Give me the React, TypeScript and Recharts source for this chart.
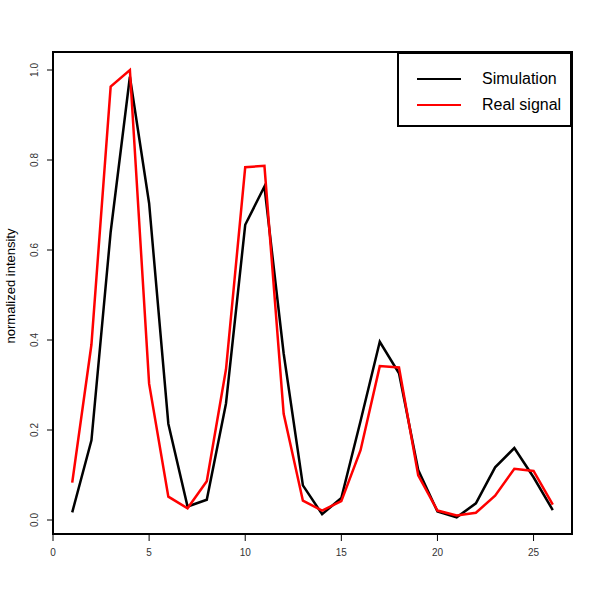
import React from 'react';
import { LineChart, Line, XAxis, YAxis, ReferenceArea, Legend } from 'recharts';

const positions = [1, 2, 3, 4, 5, 6, 7, 8, 9, 10, 11, 12, 13, 14, 15, 16, 17, 18, 19, 20, 21, 22, 23, 24, 25, 26];
const simulation = [0.017, 0.177, 0.64, 0.985, 0.704, 0.214, 0.03, 0.045, 0.259, 0.656, 0.741, 0.37, 0.077, 0.013, 0.049, 0.22, 0.396, 0.326, 0.111, 0.019, 0.006, 0.037, 0.117, 0.16, 0.095, 0.022];
const realSignal = [0.083, 0.39, 0.963, 1.0, 0.303, 0.052, 0.026, 0.086, 0.335, 0.784, 0.787, 0.236, 0.043, 0.021, 0.042, 0.155, 0.342, 0.339, 0.099, 0.021, 0.01, 0.016, 0.054, 0.114, 0.109, 0.034];
const xTicks = [0, 5, 10, 15, 20, 25];
const yTicks = [0, 0.2, 0.4, 0.6, 0.8, 1.0];
const seriesNames = ['Simulation', 'Real signal'];
const seriesColors = ['#000000', '#ff0000'];

const data = positions.map((p, i) => ({ x: p, sim: simulation[i], real: realSignal[i] }));

const FONT = '"Liberation Sans", Arial, Helvetica, sans-serif';
const X_DOMAIN: [number, number] = [0, 27];
const Y_DOMAIN: [number, number] = [-0.0311, 1.04];

const YTick = (props: any) => {
  const { x, y, payload } = props;
  const cx = x - 7;
  return (
    <text
      x={cx}
      y={y}
      transform={`rotate(-90, ${cx}, ${y})`}
      textAnchor="middle"
      fontSize={10}
      fontFamily={FONT}
      fill="#333"
    >
      {Number(payload.value).toFixed(1)}
    </text>
  );
};

const LegendBox = () => (
  <div
    style={{
      position: 'relative',
      width: 175,
      height: 75,
      border: '2px solid #000',
      boxSizing: 'border-box',
      background: '#fff',
      fontFamily: FONT,
      fontSize: 16,
      color: '#000',
    }}
  >
    {seriesNames.map((name, i) => (
      <div key={name} style={{ position: 'absolute', left: 0, top: 14 + i * 26, height: 22, width: '100%' }}>
        <div
          style={{
            position: 'absolute',
            left: 18,
            top: 10,
            width: 44,
            height: 2,
            background: seriesColors[i],
          }}
        />
        <span style={{ position: 'absolute', left: 83, top: 1, lineHeight: '20px', whiteSpace: 'nowrap' }}>{name}</span>
      </div>
    ))}
  </div>
);

export default function App() {
  return (
    <div style={{ position: 'absolute', left: 0, top: 0, width: 600, height: 600, background: '#fff' }}>
      <LineChart width={600} height={600} data={data} margin={{ top: 52, right: 28, left: 13, bottom: 36 }}>
        <XAxis
          dataKey="x"
          type="number"
          domain={X_DOMAIN}
          allowDataOverflow
          ticks={xTicks}
          axisLine={false}
          tickLine={{ stroke: '#000' }}
          tickSize={7}
          tickMargin={8}
          height={30}
          tick={{ fontSize: 10, fontFamily: FONT, fill: '#333' }}
        />
        <YAxis
          type="number"
          domain={Y_DOMAIN}
          allowDataOverflow
          ticks={yTicks}
          axisLine={false}
          tickLine={{ stroke: '#000' }}
          tickSize={6}
          width={40}
          tick={<YTick />}
          label={{
            content: () => (
              <text
                x={15}
                y={286}
                transform="rotate(-90, 15, 286)"
                textAnchor="middle"
                fontSize={13}
                fontFamily={FONT}
                fill="#000"
              >
                normalized intensity
              </text>
            ),
          }}
        />
        <ReferenceArea
          x1={X_DOMAIN[0]}
          x2={X_DOMAIN[1]}
          y1={Y_DOMAIN[0]}
          y2={Y_DOMAIN[1]}
          fill="none"
          fillOpacity={0}
          stroke="#000"
          strokeWidth={2}
          ifOverflow="visible"
        />
        <Line
          dataKey="sim"
          name={seriesNames[0]}
          stroke={seriesColors[0]}
          strokeWidth={2.5}
          dot={false}
          isAnimationActive={false}
          type="linear"
        />
        <Line
          dataKey="real"
          name={seriesNames[1]}
          stroke={seriesColors[1]}
          strokeWidth={2.5}
          dot={false}
          isAnimationActive={false}
          type="linear"
        />
        <Legend
          layout="horizontal"
          verticalAlign="middle"
          align="center"
          content={() => <LegendBox />}
          wrapperStyle={{ position: 'absolute', left: 397, top: 52, width: 175, height: 75, bottom: 'auto', right: 'auto' }}
        />
      </LineChart>
    </div>
  );
}
